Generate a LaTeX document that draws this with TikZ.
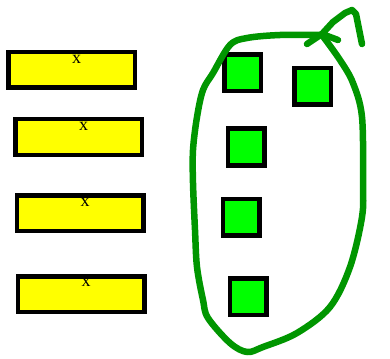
\documentclass[tikz,border=0pt]{standalone}
\usepackage{fontspec}
\setmainfont{Liberation Serif}
\usepackage{tikz}
\definecolor{loopgreen}{RGB}{0,150,0}
\definecolor{baryellow}{RGB}{255,255,0}
\definecolor{tilegreen}{RGB}{0,255,0}
\tikzset{bar/.style = {shape = rectangle, draw, line width = 4.5pt, fill = baryellow, minimum width = 126.5pt, minimum height = 35.5pt, inner sep = 0pt}}
\tikzset{tile/.style = {shape = rectangle, draw, line width = 4.5pt, fill = tilegreen, minimum size = 36.5pt, inner sep = 0pt}}
\tikzset{barlabel/.style = {inner sep = 0pt, font = \fontsize{18}{18}\selectfont}}
\tikzset{stroke/.style = {draw = loopgreen, line width = 6.5pt, line cap = round, line join = round}}

\begin{document}
\begin{tikzpicture}[x = 1pt, y = -1pt]
			\useasboundingbox (0, 0) rectangle (390, 358);

			\node[bar] (a) at (71.5, 70) {};
			\node[bar] (b) at (78.5, 137) {};
			\node[bar] (c) at (80, 213) {};
			\node[bar] (d) at (81, 294) {};

			\node[barlabel] (xa) at ([xshift = 5pt, yshift = -9pt] a.north) {x};
			\node[barlabel] (xb) at ([xshift = 5pt, yshift = -9pt] b.north) {x};
			\node[barlabel] (xc) at ([xshift = 5pt, yshift = -9pt] c.north) {x};
			\node[barlabel] (xd) at ([xshift = 5pt, yshift = -8pt] d.north) {x};

			\node[tile] (e) at (242.5, 73) {};
			\node[tile] (f) at (312.5, 86.5) {};
			\node[tile] (g) at (246, 147) {};
			\node[tile] (h) at (241, 217) {};
			\node[tile] (i) at (248, 296.5) {};

			% hand drawn loop round the tiles
			\draw[stroke] plot[smooth, tension = 0.55] coordinates {(322, 35) (280, 35) (247, 38) (230, 45) (213, 73) (203, 90) (197, 117) (193, 150) (193, 183) (195, 230) (197, 267) (203, 300) (208, 318) (230, 343) (247, 352) (263, 347) (297, 333) (330, 307) (350, 267) (362, 217) (363, 183) (362, 117) (353, 83) (340, 60) (322, 35)};
			\coordinate (tip) at (322, 34);
			\draw[stroke] (307, 44) -- (tip) -- (338, 40);
			\draw[stroke] (tip) -- (333, 22) -- (345, 13) -- (352, 10) -- (356, 14) -- (362, 44);
		\end{tikzpicture}
\end{document}
